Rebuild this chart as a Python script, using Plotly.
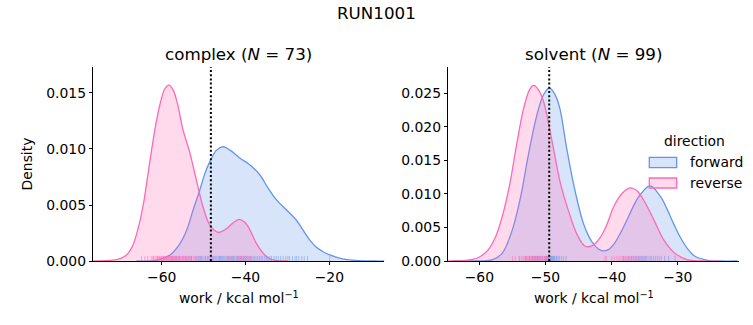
import plotly.graph_objects as go

# ---------------- data ----------------
# complex, forward (blue) KDE
cx_fwd_x = [-66, -62, -60.4, -58.0, -55.6, -54.0, -52.5, -50.9, -49.7, -48.5, -46.9, -45.3, -43.7, -41.4,
            -39.0, -36.6, -34.6, -32.6, -30.2, -27.9, -26.3, -24.7, -23.1, -21.5, -19.9, -16.8, -13, -9, -6]
cx_fwd_d = [0.0, 0.00003, 0.00015, 0.00054, 0.00158, 0.0028, 0.00455, 0.00634, 0.0078, 0.00887, 0.0099,
            0.0102, 0.0099, 0.0092, 0.0086, 0.0077, 0.0065, 0.00545, 0.00455, 0.00366, 0.00277, 0.00188,
            0.00122, 0.00083, 0.00054, 0.00018, 0.00003, 0.0, 0.0]
# complex, reverse (pink)
cx_rev_x = [-77, -72.5, -70.5, -68.5, -67.0, -65.7, -64.4, -63.4, -62.4, -61.3, -60.2, -59.2, -58.3, -57.3,
            -56.2, -54.9, -53.3, -51.7, -50.1, -48.5, -46.5, -44.5, -43.0, -41.5, -40.3, -39.4, -37.4, -35.4,
            -34.2, -32.5, -30]
cx_rev_d = [0.0, 0.00005, 0.00015, 0.0005, 0.0013, 0.0028, 0.0050, 0.0074, 0.0099, 0.0124, 0.0143, 0.0154,
            0.0157, 0.0153, 0.0140, 0.0117, 0.0097, 0.0072, 0.0048, 0.0032, 0.00256, 0.0029, 0.0034, 0.00372,
            0.0035, 0.0031, 0.00158, 0.00054, 0.0002, 0.00003, 0.0]
# solvent, forward (blue)
sv_fwd_x = [-64, -60.5, -58.1, -56.6, -55.1, -53.8, -52.6, -51.3, -50.3, -49.4, -48.5, -47.8, -46.8, -45.5,
            -44.2, -43.0, -42.0, -41.3, -40.5, -39.6, -38.6, -37.7, -36.8, -35.9, -34.2, -32.6, -31.6, -30.6,
            -29.6, -28.5, -27.4, -25.5, -23.5, -21]
sv_fwd_d = [0.0, 0.00003, 0.00015, 0.0011, 0.0044, 0.0094, 0.0158, 0.0218, 0.0248, 0.0258, 0.0247, 0.0226,
            0.0168, 0.0103, 0.0054, 0.0029, 0.0018, 0.0015, 0.0017, 0.0026, 0.0043, 0.0061, 0.0080, 0.0096,
            0.0112, 0.0096, 0.0077, 0.0055, 0.0035, 0.0018, 0.0007, 0.0001, 0.0, 0.0]
# solvent, reverse (pink)
sv_rev_x = [-65, -62.7, -61.2, -60.0, -58.8, -57.6, -56.5, -55.4, -54.4, -53.3, -52.4, -51.8, -51.1, -50.3,
            -49.0, -47.8, -46.5, -45.2, -44.0, -42.9, -41.8, -40.7, -39.7, -38.4, -37.2, -36.1, -35.0, -33.6,
            -32.1, -30.5, -28.6, -26.5, -24]
sv_rev_d = [0.0, 0.00005, 0.0002, 0.0006, 0.0015, 0.0035, 0.0068, 0.0115, 0.0172, 0.0228, 0.0256, 0.0262,
            0.0256, 0.0238, 0.0178, 0.0118, 0.0074, 0.0039, 0.0022, 0.0023, 0.0034, 0.0055, 0.0081, 0.0101,
            0.0109, 0.0104, 0.0088, 0.0061, 0.0031, 0.0012, 0.0002, 0.0, 0.0]

# rug samples (work values)
cx_fwd_rug = [-57.5, -56.5, -55.8, -54.2, -53.5, -52.9, -51.8, -51.2, -50.7, -50.3, -49.9, -49.5, -49.0,
              -48.7, -48.3, -47.9, -47.6, -47.3, -47.0, -46.6, -46.3, -46.0, -45.8, -45.5, -45.2, -44.9,
              -44.6, -44.3, -44.0, -43.7, -43.4, -43.1, -42.8, -42.5, -42.1, -41.8, -41.5, -41.1, -40.8,
              -40.4, -40.1, -39.8, -39.4, -39.0, -38.6, -38.2, -37.9, -37.5, -37.1, -36.7, -36.3, -35.9,
              -35.4, -35.0, -34.6, -34.2, -33.8, -33.2, -32.7, -32.2, -31.6, -31.0, -30.4, -29.9, -29.5,
              -28.8, -28.2, -27.8, -27.3, -26.6, -26.0, -25.2, -19.9]
cx_rev_rug = [-64.8, -64.0, -63.3, -62.5, -62.1, -61.9, -61.6, -61.3, -61.0, -60.9, -60.7, -60.5, -60.3,
              -60.1, -59.9, -59.7, -59.5, -59.4, -59.2, -59.0, -58.9, -58.8, -58.6, -58.4, -58.3, -58.1,
              -58.0, -57.8, -57.7, -57.5, -57.4, -57.2, -57.0, -56.9, -56.7, -56.5, -56.3, -56.1, -55.9,
              -55.7, -55.5, -55.2, -55.0, -54.8, -54.6, -54.3, -54.1, -53.8, -53.5, -53.1, -52.9, -52.5,
              -52.2, -51.8, -51.5, -51.0, -50.6, -49.5, -49.0, -48.0, -46.2, -44.0, -43.4, -42.8, -41.9,
              -41.6, -41.2, -40.9, -40.5, -40.1, -39.6, -39.2, -38.8]
sv_fwd_rug = [-53.0, -52.4, -52.0, -51.6, -51.2, -51.0, -50.7, -50.5, -50.2, -50.0, -49.9, -49.8, -49.7,
              -49.6, -49.5, -49.4, -49.3, -49.2, -49.1, -49.0, -48.9, -48.8, -48.7, -48.6, -48.4, -48.3,
              -48.1, -47.9, -47.6, -47.3, -46.9, -38.2, -37.5, -37.0, -36.6, -36.2, -35.9, -35.6, -35.3,
              -35.0, -34.8, -34.5, -34.2, -34.0, -33.7, -33.4, -33.1, -32.8, -32.5, -32.0, -31.4, -30.4]
sv_rev_rug = [-55.0, -54.6, -54.0, -53.9, -53.6, -53.4, -53.2, -53.0, -52.9, -52.7, -52.6, -52.4, -52.3,
              -52.1, -52.0, -51.9, -51.8, -51.7, -51.6, -51.5, -51.4, -51.3, -51.2, -51.1, -51.0, -50.9,
              -50.7, -50.5, -50.4, -50.2, -50.1, -49.9, -49.8, -49.5, -41.0, -40.8, -40.0, -39.6, -39.2,
              -38.9, -38.6, -38.3, -38.1, -37.9, -37.7, -37.5, -37.3, -37.1, -36.9, -36.7, -36.4, -36.2,
              -36.0, -35.8, -35.5, -35.2, -34.8]

dg_complex = -48.26
dg_solvent = -49.44

titles = ["complex (<i>N</i> = 73)", "solvent (<i>N</i> = 99)"]
suptitle = "RUN1001"
xlabel = "work / kcal mol<sup>−1</sup>"
ylabel = "Density"
legend_title = "direction"
series_names = ["forward", "reverse"]

# ---------------- style ----------------
W, H = 753, 325
BLUE = "rgb(100,149,237)"
PINK = "rgb(255,105,180)"
BLUE_F = "rgba(100,149,237,0.25)"
PINK_F = "rgba(255,105,180,0.25)"
BLUE_R = "rgba(100,149,237,0.5)"
PINK_R = "rgba(255,105,180,0.55)"
FONT = "DejaVu Sans"
FS = 13.9

x1_range = [-76.3, -6.9]
y1_range = [0, 0.01732]
x2_range = [-64.7, -20.7]
y2_range = [0, 0.02893]

dom_x1 = [93.3 / W, 384.3 / W]
dom_x2 = [448.3 / W, 739.3 / W]
dom_y = [1 - 261 / H, 1 - 67 / H]

fig = go.Figure()


def add_kde(x, d, line, fill, xa, ya):
    fig.add_trace(go.Scatter(x=x, y=d, mode="lines", line=dict(color=line, width=1.3, shape="spline", smoothing=1.0),
                             fill="tozeroy", fillcolor=fill, showlegend=False, hoverinfo="skip",
                             xaxis=xa, yaxis=ya))


def add_rug(vals, color, yr, xa, ya):
    h = 0.026 * (yr[1] - yr[0])
    xs, ys = [], []
    for v in vals:
        xs += [v, v, None]
        ys += [0, h, None]
    fig.add_trace(go.Scatter(x=xs, y=ys, mode="lines", line=dict(color=color, width=1),
                             showlegend=False, hoverinfo="skip", xaxis=xa, yaxis=ya))


add_kde(cx_fwd_x, cx_fwd_d, BLUE, BLUE_F, "x", "y")
add_kde(cx_rev_x, cx_rev_d, PINK, PINK_F, "x", "y")
add_kde(sv_fwd_x, sv_fwd_d, BLUE, BLUE_F, "x2", "y2")
add_kde(sv_rev_x, sv_rev_d, PINK, PINK_F, "x2", "y2")
add_rug(cx_fwd_rug, BLUE_R, y1_range, "x", "y")
add_rug(cx_rev_rug, PINK_R, y1_range, "x", "y")
add_rug(sv_fwd_rug, BLUE_R, y2_range, "x2", "y2")
add_rug(sv_rev_rug, PINK_R, y2_range, "x2", "y2")

for dg, xr, yr in [(dg_complex, "x", "y domain"), (dg_solvent, "x2", "y2 domain")]:
    fig.add_shape(type="line", x0=dg, x1=dg, y0=0, y1=1, xref=xr, yref=yr,
                  line=dict(color="black", width=2, dash="2px,2.2px"))

# legend drawn as patches + text (matplotlib style)
annotations = [
    dict(text=suptitle, x=0.5, y=1 - 13 / H, xref="paper", yref="paper", showarrow=False,
         font=dict(family=FONT, size=16.7), xanchor="center", yanchor="middle"),
    dict(text=titles[0], x=(dom_x1[0] + dom_x1[1]) / 2, y=1 - 54 / H, xref="paper", yref="paper",
         showarrow=False, font=dict(family=FONT, size=16.7), xanchor="center", yanchor="middle"),
    dict(text=titles[1], x=(dom_x2[0] + dom_x2[1]) / 2, y=1 - 54 / H, xref="paper", yref="paper",
         showarrow=False, font=dict(family=FONT, size=16.7), xanchor="center", yanchor="middle"),
    dict(text=legend_title, x=694.5 / W, y=1 - 141 / H, xref="paper", yref="paper", showarrow=False,
         font=dict(family=FONT, size=FS), xanchor="center", yanchor="middle"),
]
leg_rows = [(157.3, 167.7, 161.5), (178.0, 188.0, 182.5)]
for name, lc, fc, (t, b, ty) in zip(series_names, [BLUE, PINK], [BLUE_F, PINK_F], leg_rows):
    fig.add_shape(type="rect", xref="paper", yref="paper", x0=649.3 / W, x1=676.7 / W,
                  y0=1 - b / H, y1=1 - t / H, line=dict(color=lc, width=1.3), fillcolor=fc)
    annotations.append(dict(text=name, x=687.5 / W, y=1 - ty / H, xref="paper", yref="paper",
                            showarrow=False, font=dict(family=FONT, size=FS), xanchor="left",
                            yanchor="middle"))

axis_common = dict(showgrid=False, zeroline=False, showline=True, linecolor="black", linewidth=0.9,
                   ticks="outside", ticklen=3.5, tickwidth=0.9, tickcolor="black",
                   tickfont=dict(family=FONT, size=FS, color="black"), automargin=False)

fig.update_layout(
    width=W, height=H, margin=dict(l=0, r=0, t=0, b=0),
    paper_bgcolor="white", plot_bgcolor="white", showlegend=False,
    font=dict(family=FONT, size=FS, color="black"),
    xaxis=dict(domain=dom_x1, range=x1_range, anchor="y", tickmode="array", tickvals=[-60, -40, -20],
               title=dict(text=xlabel, font=dict(size=FS), standoff=9), **axis_common),
    yaxis=dict(domain=dom_y, range=y1_range, anchor="x", tickformat=".3f", dtick=0.005,
               title=dict(text=ylabel, font=dict(size=FS), standoff=10), **axis_common),
    xaxis2=dict(domain=dom_x2, range=x2_range, anchor="y2", tickmode="array", tickvals=[-60, -50, -40, -30],
                title=dict(text=xlabel, font=dict(size=FS), standoff=9), **axis_common),
    yaxis2=dict(domain=dom_y, range=y2_range, anchor="x2", tickformat=".3f", dtick=0.005, **axis_common),
    annotations=annotations,
)

fig.write_html("out.html")
